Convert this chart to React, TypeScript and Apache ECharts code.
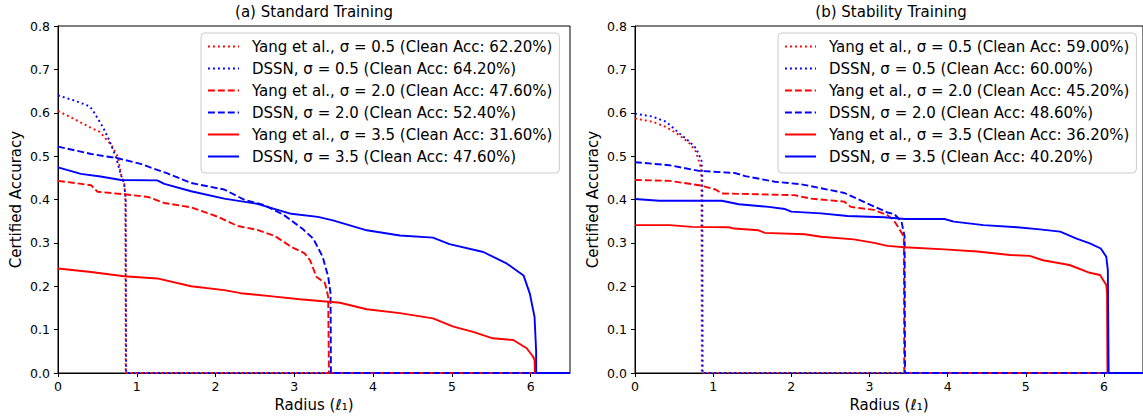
import React, { useEffect, useRef } from "react";
import * as echarts from "echarts";

const FONT = "DejaVu Sans";
const X_MAX = 6.5;
const X_TICKS = [0, 1, 2, 3, 4, 5, 6];
const Y_TICKS = [0, 0.1, 0.2, 0.3, 0.4, 0.5, 0.6, 0.7, 0.8];

const TITLES = ["(a) Standard Training", "(b) Stability Training"];

// (a) Standard Training
const NAMES_A = [
  "Yang et al., σ = 0.5 (Clean Acc: 62.20%)",
  "DSSN, σ = 0.5 (Clean Acc: 64.20%)",
  "Yang et al., σ = 2.0 (Clean Acc: 47.60%)",
  "DSSN, σ = 2.0 (Clean Acc: 52.40%)",
  "Yang et al., σ = 3.5 (Clean Acc: 31.60%)",
  "DSSN, σ = 3.5 (Clean Acc: 47.60%)",
];
const yang05A = [[0,0.604],[0.19,0.587],[0.4,0.567],[0.53,0.556],[0.68,0.525],[0.76,0.498],[0.8,0.458],[0.84,0.437],[0.855,0.4],[0.86,0],[6.5,0]];
const dssn05A = [[0,0.64],[0.21,0.628],[0.4,0.615],[0.44,0.606],[0.57,0.567],[0.65,0.537],[0.74,0.495],[0.8,0.456],[0.84,0.437],[0.86,0.4],[0.865,0],[6.5,0]];
const yang20A = [[0,0.443],[0.42,0.433],[0.5,0.418],[0.84,0.412],[1.14,0.406],[1.35,0.392],[1.69,0.382],[2.03,0.36],[2.28,0.339],[2.53,0.33],[2.75,0.316],[2.96,0.291],[3.13,0.276],[3.2,0.26],[3.28,0.222],[3.39,0.207],[3.43,0.176],[3.44,0],[6.5,0]];
const dssn20A = [[0,0.522],[0.42,0.505],[0.76,0.495],[1.05,0.482],[1.39,0.46],[1.69,0.438],[2.11,0.423],[2.37,0.399],[2.62,0.387],[2.87,0.364],[3.1,0.333],[3.24,0.31],[3.36,0.268],[3.43,0.222],[3.46,0.184],[3.465,0],[6.5,0]];
const yang35A = [[0,0.241],[0.42,0.233],[0.84,0.223],[1.26,0.218],[1.69,0.2],[2.11,0.191],[2.32,0.184],[2.75,0.176],[3.07,0.17],[3.58,0.162],[3.92,0.147],[4.34,0.138],[4.76,0.126],[5.02,0.107],[5.27,0.095],[5.52,0.08],[5.78,0.076],[5.95,0.057],[6.03,0.038],[6.05,0.03],[6.055,0],[6.5,0]];
const dssn35A = [[0,0.474],[0.29,0.459],[0.54,0.453],[0.8,0.445],[1.26,0.444],[1.35,0.436],[1.69,0.419],[2.11,0.402],[2.53,0.39],[2.96,0.367],[3.3,0.36],[3.49,0.352],[3.92,0.329],[4.34,0.317],[4.76,0.312],[4.97,0.297],[5.4,0.279],[5.7,0.252],[5.91,0.225],[5.99,0.183],[6.05,0.129],[6.07,0.05],[6.07,0],[6.5,0]];

// (b) Stability Training
const NAMES_B = [
  "Yang et al., σ = 0.5 (Clean Acc: 59.00%)",
  "DSSN, σ = 0.5 (Clean Acc: 60.00%)",
  "Yang et al., σ = 2.0 (Clean Acc: 45.20%)",
  "DSSN, σ = 2.0 (Clean Acc: 48.60%)",
  "Yang et al., σ = 3.5 (Clean Acc: 36.20%)",
  "DSSN, σ = 3.5 (Clean Acc: 40.20%)",
];
const yang05B = [[0,0.587],[0.23,0.579],[0.4,0.567],[0.57,0.548],[0.7,0.529],[0.78,0.51],[0.82,0.487],[0.84,0.475],[0.85,0.45],[0.855,0],[6.5,0]];
const dssn05B = [[0,0.598],[0.23,0.591],[0.4,0.579],[0.57,0.552],[0.7,0.533],[0.78,0.518],[0.85,0.491],[0.86,0.46],[0.865,0],[6.5,0]];
const yang20B = [[0,0.445],[0.44,0.443],[0.82,0.433],[1.03,0.423],[1.11,0.414],[2.04,0.41],[2.25,0.402],[2.68,0.395],[2.76,0.383],[3.06,0.376],[3.23,0.364],[3.31,0.352],[3.38,0.333],[3.44,0.314],[3.445,0],[6.5,0]];
const dssn20B = [[0,0.486],[0.44,0.479],[0.82,0.466],[1.28,0.461],[1.41,0.454],[1.79,0.441],[2.13,0.435],[2.38,0.426],[2.68,0.415],[2.97,0.391],[3.23,0.37],[3.32,0.366],[3.41,0.349],[3.45,0.314],[3.455,0],[6.5,0]];
const yang35B = [[0,0.341],[0.44,0.341],[0.73,0.337],[1.2,0.336],[1.27,0.333],[1.58,0.329],[1.66,0.323],[2.17,0.32],[2.38,0.314],[2.8,0.308],[3.06,0.3],[3.23,0.293],[3.45,0.29],[3.96,0.285],[4.38,0.28],[4.8,0.272],[5.05,0.27],[5.22,0.26],[5.56,0.249],[5.82,0.231],[5.95,0.226],[6.03,0.203],[6.04,0.184],[6.045,0],[6.5,0]];
const dssn35B = [[0,0.401],[0.31,0.397],[1.11,0.397],[1.33,0.389],[1.71,0.383],[1.92,0.378],[2.0,0.372],[2.38,0.368],[2.72,0.362],[3.19,0.359],[3.45,0.355],[3.96,0.355],[4.08,0.349],[4.46,0.341],[4.89,0.336],[5.18,0.331],[5.44,0.326],[5.65,0.31],[5.82,0.299],[5.96,0.287],[6.03,0.268],[6.05,0.237],[6.06,0],[6.5,0]];

const COLORS = ["#ff0000", "#0000ff", "#ff0000", "#0000ff", "#ff0000", "#0000ff"];
const DOTTED = [1.9, 3.1];
const DASHED = [6.9, 3.0];
const TYPES: any[] = [DOTTED, DOTTED, DASHED, DASHED, "solid", "solid"];

const DATA_A = [yang05A, dssn05A, yang20A, dssn20A, yang35A, dssn35A];
const DATA_B = [yang05B, dssn05B, yang20B, dssn20B, yang35B, dssn35B];

const GRIDS = [
  { left: 58, top: 26, width: 512, height: 347 },
  { left: 635, top: 26, width: 512, height: 347 },
];
const LEGEND_POS = [
  { left: 201, top: 33 },
  { left: 778, top: 33 },
];

export default function App() {
  const ref = useRef<HTMLDivElement>(null);
  useEffect(() => {
    if (!ref.current) return;
    const chart = echarts.init(ref.current, null, { renderer: "svg" });
    const axisLine = { show: true, onZero: false, lineStyle: { color: "#000", width: 1 } };
    const xAxis = GRIDS.map((_, i) => ({
      type: "value",
      gridIndex: i,
      min: 0,
      max: X_MAX,
      interval: 1,
      axisLine,
      axisTick: { show: true, length: 4, customValues: X_TICKS, lineStyle: { color: "#000" } },
      axisLabel: {
        customValues: X_TICKS,
        fontSize: 12.5,
        fontFamily: FONT,
        color: "#000",
        margin: 7,
        formatter: (v: number) => String(v),
      },
      splitLine: { show: false },
      name: "Radius (ℓ₁)",
      nameLocation: "middle",
      nameGap: 24,
      nameTextStyle: { fontSize: 15, fontFamily: FONT, color: "#000" },
    }));
    const yAxis = GRIDS.map((_, i) => ({
      type: "value",
      gridIndex: i,
      min: 0,
      max: 0.8,
      interval: 0.1,
      axisLine,
      axisTick: { show: true, length: 4, customValues: Y_TICKS, lineStyle: { color: "#000" } },
      axisLabel: {
        customValues: Y_TICKS,
        fontSize: 12.5,
        fontFamily: FONT,
        color: "#000",
        margin: 8,
        formatter: (v: number) => v.toFixed(1),
      },
      splitLine: { show: false },
      name: "Certified Accuracy",
      nameLocation: "middle",
      nameGap: 35,
      nameTextStyle: { fontSize: 15, fontFamily: FONT, color: "#000" },
    }));
    const series: any[] = [];
    [
      [NAMES_A, DATA_A],
      [NAMES_B, DATA_B],
    ].forEach(([names, datas]: any, gi) => {
      names.forEach((name: string, k: number) => {
        series.push({
          type: "line",
          name,
          xAxisIndex: gi,
          yAxisIndex: gi,
          data: datas[k],
          symbol: "none",
          clip: false,
          lineStyle: { color: COLORS[k], width: 1.9, type: TYPES[k] },
          itemStyle: { color: COLORS[k] },
          emphasis: { disabled: true },
          z: 2 + k,
        });
      });
    });
    const legend = [NAMES_A, NAMES_B].map((names, i) => ({
      show: true,
      orient: "vertical",
      left: LEGEND_POS[i].left,
      top: LEGEND_POS[i].top,
      itemWidth: 31,
      itemHeight: 15,
      itemGap: 7,
      padding: [6, 7, 9, 6],
      backgroundColor: "rgba(255,255,255,0.8)",
      borderColor: "#cccccc",
      borderWidth: 1,
      borderRadius: 4,
      selectedMode: false,
      itemStyle: { opacity: 0, color: "transparent", borderWidth: 0 },
      formatter: (n: string) => `{g|}${n}`,
      textStyle: {
        fontSize: 15,
        fontFamily: FONT,
        color: "#000",
        rich: { g: { width: 8 } },
      },
      data: names,
    }));
    const graphic = TITLES.map((t, i) => ({
      type: "text",
      x: GRIDS[i].left + GRIDS[i].width / 2,
      y: 12,
      style: {
        text: t,
        font: `15px "${FONT}"`,
        fill: "#000",
        textAlign: "center",
        textVerticalAlign: "middle",
        align: "center",
        verticalAlign: "middle",
      },
    }));
    chart.setOption({
      animation: false,
      backgroundColor: "#fff",
      grid: GRIDS.map((g) => ({ ...g, show: true, borderColor: "#000", borderWidth: 1, backgroundColor: "transparent" })),
      xAxis,
      yAxis,
      legend,
      graphic,
      series,
    });
    return () => chart.dispose();
  }, []);
  return (
    <div
      ref={ref}
      style={{ position: "absolute", left: 0, top: 0, width: 1143, height: 420 }}
    />
  );
}
